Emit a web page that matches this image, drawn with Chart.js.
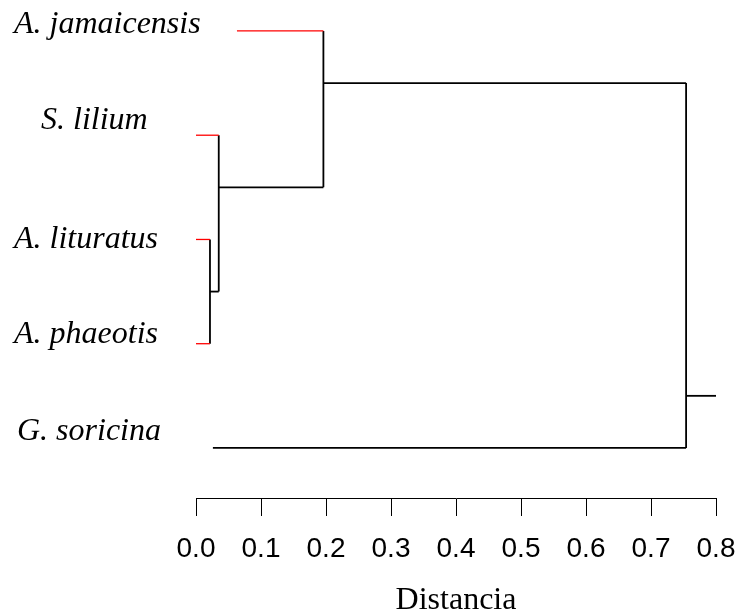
<!DOCTYPE html>
<html>
<head>
<meta charset="utf-8">
<script src="https://cdn.jsdelivr.net/npm/chart.js@4"></script>
<style>
  body { margin: 0; background: #fff; }
</style>
</head>
<body>
<canvas id="dendro" width="741" height="613"></canvas>
<script>
// Dendrogram data (leaves listed top to bottom)
const leafLabels = ['A. jamaicensis', 'S. lilium', 'A. lituratus', 'A. phaeotis', 'G. soricina'];
const leafStart = [0.063, 0, 0, 0, 0.026];         // where each leaf line begins
// merges, R style: negative = leaf number, positive = earlier merge number
const merges = [[-3, -4], [-2, 1], [-1, 2], [3, -5]];
const mergeHeights = [0.0215, 0.035, 0.196, 0.754];
const mergeRows = [2.5, 1.5, 0.5, 3.5];             // vertical position of each node
const rootEnd = 0.8;
const xTicks = [0, 0.1, 0.2, 0.3, 0.4, 0.5, 0.6, 0.7, 0.8];

// styling kept apart from the data
const leafColors = ['red', 'red', 'red', 'red', 'black'];
const labelShift = [[14, 2], [41, -6], [14, 8.5], [14, -1], [17, -8]];

// build line segments from the tree
let segments = [];
function seg(x1, y1, x2, y2, color) {
  segments.push({
    data: [{x: x1, y: y1}, {x: x2, y: y2}],
    showLine: true,
    borderColor: color,
    borderWidth: color === 'black' ? 1.8 : 1.3,
    pointRadius: 0,
    clip: 6
  });
}

function nodePos(ref) {
  if (ref < 0) return {x: leafStart[-ref - 1], y: -ref - 1, leaf: -ref - 1};
  return {x: mergeHeights[ref - 1], y: mergeRows[ref - 1], leaf: null};
}

merges.forEach((pair, k) => {
  const h = mergeHeights[k];
  const a = nodePos(pair[0]);
  const b = nodePos(pair[1]);
  [a, b].forEach(c => {
    seg(c.x, c.y, h, c.y, c.leaf === null ? 'black' : leafColors[c.leaf]);
  });
  seg(h, a.y, h, b.y, 'black');
});
// stub above the root
const last = merges.length - 1;
seg(mergeHeights[last], mergeRows[last], rootEnd, mergeRows[last], 'black');

// leaf names drawn beside the tree
const leafNames = {
  id: 'leafNames',
  afterDraw(chart) {
    const ctx = chart.ctx;
    const y = chart.scales.y;
    ctx.save();
    ctx.font = 'italic 32px "Liberation Serif", "Times New Roman", serif';
    ctx.fillStyle = '#000';
    ctx.textAlign = 'left';
    ctx.textBaseline = 'alphabetic';
    leafLabels.forEach((name, i) => {
      ctx.fillText(name, labelShift[i][0], y.getPixelForValue(i) + labelShift[i][1]);
    });
    ctx.restore();
  }
};

new Chart(document.getElementById('dendro').getContext('2d'), {
  type: 'scatter',
  data: { datasets: segments },
  options: {
    responsive: false,
    animation: false,
    layout: { padding: { left: 196, right: 25, top: 0, bottom: 0 } },
    plugins: { legend: { display: false }, tooltip: { enabled: false } },
    scales: {
      x: {
        type: 'linear',
        position: 'bottom',
        min: 0,
        max: 0.8,
        afterBuildTicks: axis => { axis.ticks = xTicks.map(v => ({value: v})); },
        afterFit: axis => {
          axis.height = 115;
          axis.paddingLeft = 0;
          axis.paddingRight = 0;
        },
        ticks: {
          color: '#000',
          padding: 19,
          font: { family: '"Liberation Sans", Arial, sans-serif', size: 28, lineHeight: 1 },
          callback: v => v.toFixed(1)
        },
        grid: { drawOnChartArea: false, color: '#000', tickLength: 18, lineWidth: 1 },
        border: { color: '#000', width: 1 },
        title: {
          display: true,
          text: 'Distancia',
          color: '#000',
          font: { family: '"Liberation Serif", "Times New Roman", serif', size: 32, lineHeight: 1 },
          padding: { top: 0, bottom: -4 }
        }
      },
      y: {
        display: false,
        reverse: true,
        min: -0.297,
        max: 4.48
      }
    }
  },
  plugins: [leafNames]
});
</script>
</body>
</html>
